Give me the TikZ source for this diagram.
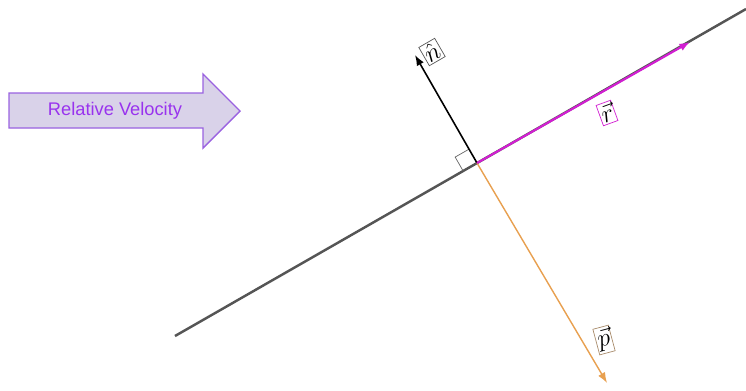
\documentclass[tikz,border=0pt]{standalone}
\usepackage{amsmath,amssymb}
\usepackage{fontspec}
\setsansfont{Liberation Sans}
\usepackage{tikz}
\usepackage{xcolor}
\usetikzlibrary{arrows.meta, positioning, calc}

\definecolor{velfill}{HTML}{D9D2E9}
\definecolor{veledge}{HTML}{9A62E0}
\definecolor{veltext}{HTML}{9933EE}
\definecolor{rvec}{HTML}{D21ED2}
\definecolor{pvec}{HTML}{E8A050}
\definecolor{plane}{HTML}{555555}

\begin{document}
\begin{tikzpicture}[x=0.02cm, y=-0.02cm,
    vecbox/.style={draw, thin, inner sep=1pt, font=\Large, fill=white},
    tip/.style={-{Latex[length=6pt, width=4.5pt]}}]
    \useasboundingbox (0,0) rectangle (746,390);

    % =========================================================
    % RELATIVE VELOCITY ARROW
    % =========================================================
    \draw[veledge, fill=velfill, thick] (9,93) -- (203,93) -- (203,74) -- (240,111)
        -- (203,148) -- (203,128) -- (9,128) -- cycle;
    \node[veltext, font=\sffamily\fontsize{10.4}{12}\selectfont] (relvel) at (115,111) {Relative Velocity};

    % =========================================================
    % CONTACT LINE & POINTS
    % =========================================================
    \coordinate (O) at (477,163);
    \coordinate (lineA) at (175,336);
    \coordinate (lineB) at (746,9);
    \coordinate (rtip) at (690,42);
    \coordinate (ntip) at (415,55);
    \coordinate (ptip) at (607,383);

    \draw[plane, line width=1.4pt] (lineA) -- (lineB);

    % Right angle marker
    \coordinate (sqA) at ($(O)!0.32cm!(lineA)$);
    \coordinate (sqB) at ($(O)!0.32cm!(ntip)$);
    \draw[gray!80!black, thin] (sqA) -- ($(sqA)+(sqB)-(O)$) -- (sqB);

    % =========================================================
    % VECTORS
    % =========================================================
    \draw[tip, black, line width=0.9pt] (O) -- (ntip);
    \draw[tip, pvec, line width=0.8pt] (O) -- (ptip);
    \draw[tip, rvec, line width=1.2pt] (O) -- (rtip);

    % Vector labels
    \node[vecbox, draw=gray!70!black, rotate=30] (nlab) at (432,52) {$\hat{n}$};
    \node[vecbox, draw=rvec, rotate=20] (rlab) at (607,113) {$\vec{r}$};
    \node[vecbox, draw=gray!60!pvec, rotate=15] (plab) at (604,340) {$\vec{p}$};
\end{tikzpicture}
\end{document}
